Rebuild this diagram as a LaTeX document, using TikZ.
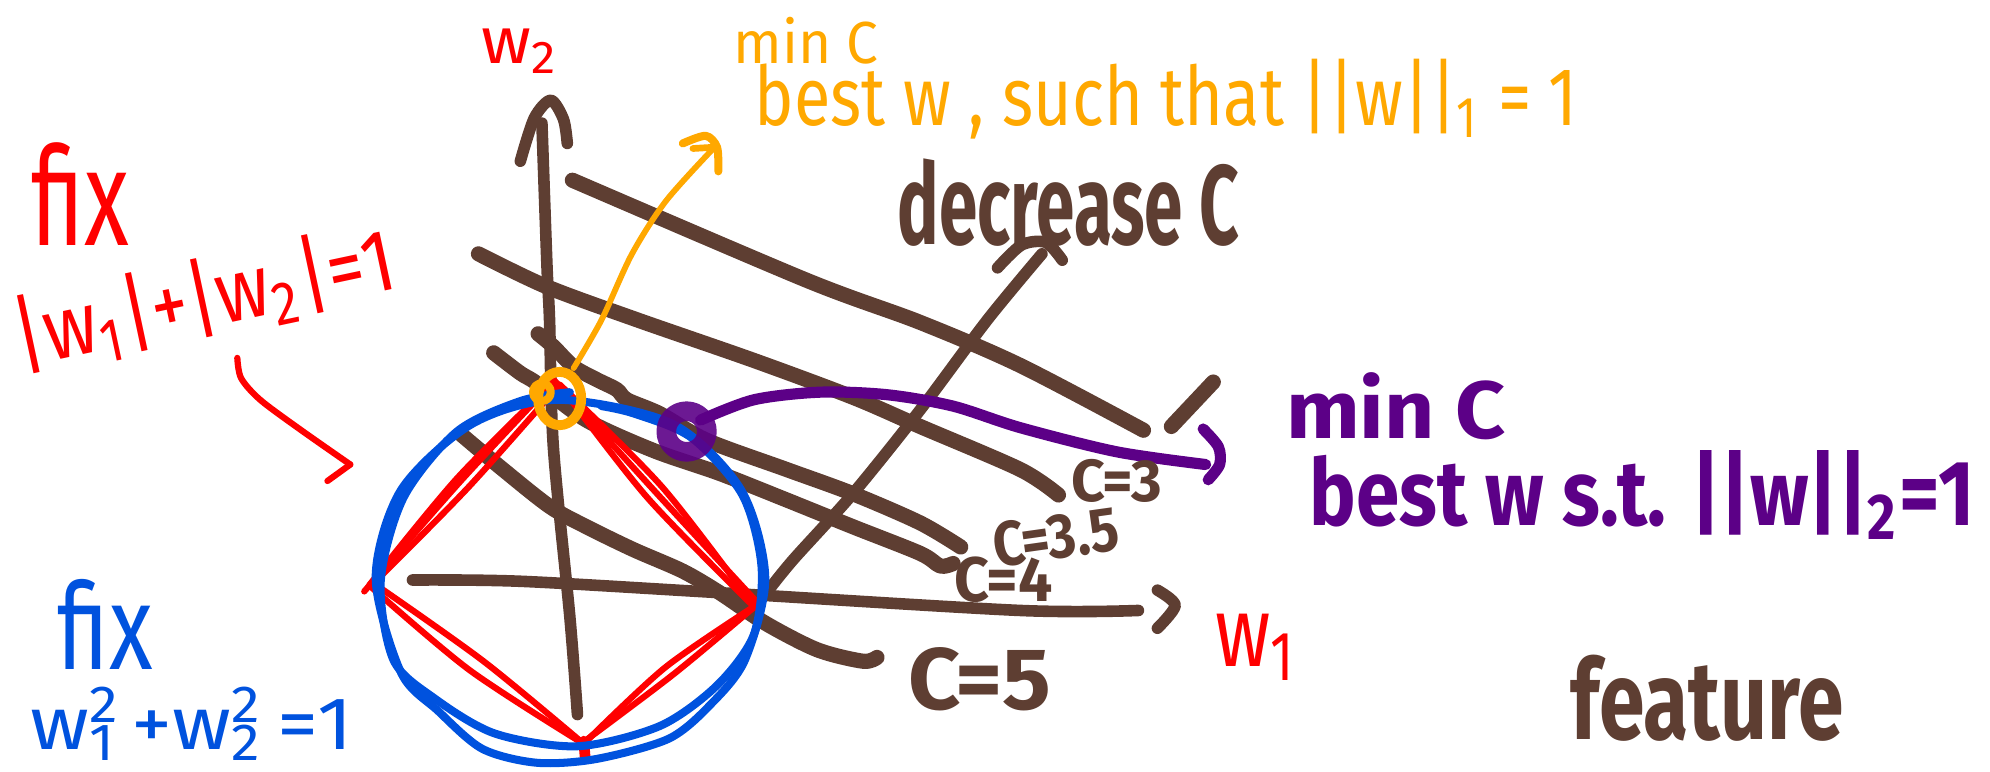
\documentclass[tikz,border=0pt]{standalone}
\usepackage{fontspec}
\setmainfont{Fira Sans}
\usepackage{graphicx}
\definecolor{brn}{RGB}{94,62,50}
\definecolor{rd}{RGB}{255,0,0}
\definecolor{bl}{RGB}{0,82,222}
\definecolor{org}{RGB}{255,168,0}
\definecolor{prp}{RGB}{92,0,135}
\newcommand{\hw}[3]{\resizebox*{#1}{#2}{#3}}
\begin{document}
\begin{tikzpicture}[x=0.01cm,y=-0.01cm,line cap=round,line join=round,
  brline/.style={draw=brn,line width=3.4pt},
  axisline/.style={draw=brn,line width=2.6pt},
  redline/.style={draw=rd,line width=1.4pt},
  blueline/.style={draw=bl,line width=1.8pt},
  orgline/.style={draw=org,line width=1.3pt},
  prpline/.style={draw=prp,line width=2.5pt},
  lbl/.style={inner sep=0pt,outer sep=0pt}]
\useasboundingbox (0,0) rectangle (1568,608);

% ---- axes ----
\draw[axisline] plot[smooth] coordinates {(455,563) (449,486) (436,352) (433,252) (431,210) (427,97)};
\draw[axisline] plot[smooth] coordinates {(410,127) (421,93) (434,79) (444,94) (447,113)};
\draw[axisline] plot[smooth] coordinates {(325,457) (410,458) (567,467) (804,481) (897,481)};
\draw[axisline] plot[smooth] coordinates {(912,465) (926,477) (912,495)};

% ---- level lines ----
\draw[brline] plot[smooth] coordinates {(451,142) (636,221) (725,254) (804,288) (901,339)};
\draw[brline] (923,336) -- (956,301);
\draw[brline] plot[smooth] coordinates {(377,200) (431,226) (502,252) (594,284) (672,313) (725,336) (804,370) (834,390)};
\draw[brline] plot[smooth] coordinates {(424,263) (436,273) (452,289) (470,299) (486,307) (494,315) (520,326) (557,347) (620,370) (672,389) (725,412) (757,431)};
\draw[brline] plot[smooth] coordinates {(389,278) (410,294) (423,302) (462,331) (515,355) (567,373) (620,394) (672,415) (725,436) (741,446) (751,444)};
\draw[brline] plot[smooth] coordinates {(363,342) (394,368) (433,399) (462,415) (499,433) (538,450) (567,467) (603,491) (644,512) (680,521) (691,518)};
% decrease C arrow
\draw[axisline] plot[smooth] coordinates {(604,467) (625,441) (672,389) (725,323) (778,252) (821,200)};
\draw[axisline] plot[smooth] coordinates {(786,211) (805,193) (824,191) (837,205)};

% ---- red diamond ----
\draw[redline] plot[smooth] coordinates {(437,300) (360,377) (291,461)};
\draw[redline] plot[smooth] coordinates {(440,304) (369,384) (295,459)};
\draw[redline] plot[smooth] coordinates {(435,302) (363,379) (287,466)};
\draw[redline] plot[smooth] coordinates {(437,300) (515,386) (597,475)};
\draw[redline] plot[smooth] coordinates {(441,303) (522,384) (595,479)};
\draw[redline] plot[smooth] coordinates {(443,306) (510,392) (593,477)};
\draw[redline] plot[smooth] coordinates {(594,478) (524,526) (461,585)};
\draw[redline] plot[smooth] coordinates {(597,476) (531,531) (458,586)};
\draw[redline] plot[smooth] coordinates {(293,463) (370,528) (458,585)};
\draw[redline] plot[smooth] coordinates {(295,460) (381,521) (461,587)};
\draw[redline,line width=2.4pt] (460,584) -- (461,596);

% ---- blue circle ----
\draw[blueline] plot[smooth cycle] coordinates {(603,455) (584,386) (530,334) (440,315) (372,334) (316,386) (296,455) (316,530) (345,560) (380,590) (423,601) (470,598) (527,582) (560,555) (587,520)};
\draw[blueline] plot[smooth] coordinates {(449,309) (410,316) (360,340) (318,392) (300,458) (310,520) (342,550) (390,578) (455,588) (520,572) (565,540) (594,500) (600,446) (585,390) (545,345) (500,326) (474,320)};

% ---- orange ----
\draw[orgline,line width=2.2pt] (441,314) ellipse [x radius=17,y radius=21];
\draw[orgline,line width=1.8pt] (427,309) circle [radius=7];
\draw[orgline] plot[smooth] coordinates {(452,290) (474,252) (498,200) (525,158) (563,116)};
\draw[orgline,line width=1.8pt] plot[smooth] coordinates {(538,113) (556,107) (565,116) (566,135)};
\draw[orgline,line width=1.5pt] (546,117) -- (563,116);

% ---- purple ----
\draw[prpline] plot[smooth] coordinates {(552,331) (594,315) (646,309) (699,311) (751,320) (804,337) (880,356) (950,366)};
\draw[prpline] plot[smooth] coordinates {(948,338) (960,352) (961,366) (952,378)};
\draw[draw=prp,line width=4.4pt,opacity=0.9] (541,340) circle [radius=16];

% ---- red arrow ----
\draw[redline] plot[smooth] coordinates {(187,282) (190,298) (205,315) (236,338) (276,366)};
\draw[redline] (276,366) -- (258,379);

% ---- labels ----
\node[lbl,text=rd] (w2) at (410,40) {\hw{0.61cm}{0.35cm}{w\textsubscript{2}}};
\node[lbl,text=rd] (w1) at (990,510) {\hw{0.65cm}{0.53cm}{w\textsubscript{1}}};
\node[lbl,text=org] (omin) at (635,32) {\hw{1.14cm}{0.37cm}{min C}};
\node[lbl,text=org] (obest) at (919,78) {\hw{6.48cm}{0.63cm}{best w , such that ||w||\textsubscript{1} = 1}};
\node[lbl,text=brn] (dec) at (842,160) {\hw{2.69cm}{0.69cm}{\bfseries decrease C}};
\node[lbl,text=rd] (rfix) at (63,153) {\hw{0.77cm}{0.81cm}{fix}};
\node[lbl,text=rd,rotate=12] (rnorm) at (161,236) {\hw{3.05cm}{0.66cm}{|w\textsubscript{1}|+|w\textsubscript{2}|=1}};
\node[lbl,text=bl] (bfix) at (83,492) {\hw{0.75cm}{0.71cm}{fix}};
\node[lbl,text=bl] (bnorm) at (151,570) {\hw{2.54cm}{0.58cm}{w\rlap{\textsuperscript{2}}\textsubscript{1}\,+w\rlap{\textsuperscript{2}}\textsubscript{2}\,=1}};
\node[lbl,text=prp] (pmin) at (1100,320) {\hw{1.73cm}{0.53cm}{\bfseries min C}};
\node[lbl,text=prp] (pbest) at (1294,390) {\hw{5.24cm}{0.7cm}{\bfseries best w s.t. ||w||\textsubscript{2}=1}};
\node[lbl,text=brn] (c3) at (880,379) {\hw{0.71cm}{0.34cm}{\bfseries C=3}};
\node[lbl,text=brn,rotate=8] (c35) at (832,423) {\hw{1.0cm}{0.36cm}{\bfseries C=3.5}};
\node[lbl,text=brn] (c4) at (791,457) {\hw{0.77cm}{0.36cm}{\bfseries C=4}};
\node[lbl,text=brn] (c5) at (772,535) {\hw{1.13cm}{0.5cm}{\bfseries C=5}};
\node[lbl,text=brn] (feat) at (1345,550) {\hw{2.15cm}{0.68cm}{\bfseries feature}};
\end{tikzpicture}
\end{document}
